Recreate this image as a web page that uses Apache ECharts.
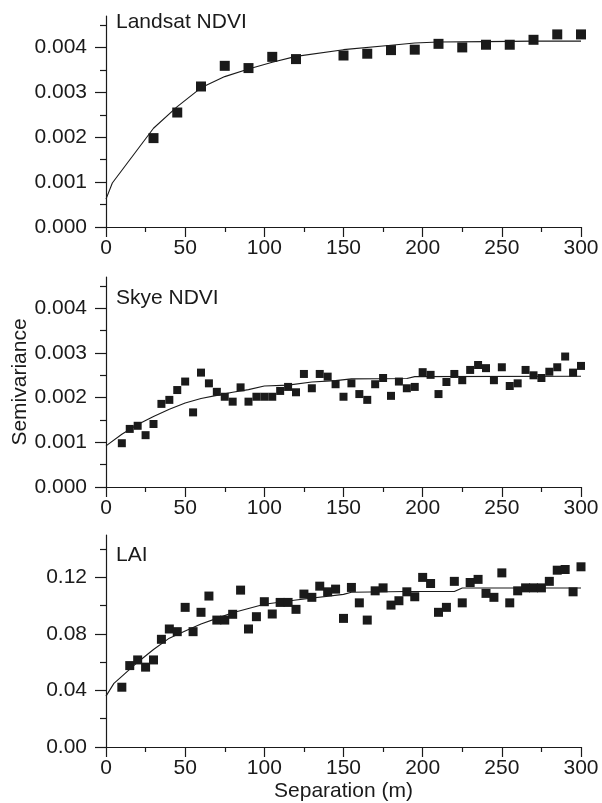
<!DOCTYPE html>
<html>
<head>
<meta charset="utf-8">
<script src="https://cdn.jsdelivr.net/npm/echarts@6/dist/echarts.min.js"></script>
<style>
  html, body { margin: 0; padding: 0; background: #fff; }
  #chart { width: 602px; height: 803px; }
</style>
</head>
<body>
<div id="chart"></div>
<script>
// Landsat NDVI panel
const landsatLags = [30, 45, 60, 75, 90, 105, 120, 150, 165, 180, 195, 210, 225, 240, 255, 270, 285, 300];
const landsatObs = [0.00198, 0.00255, 0.00313, 0.00359, 0.00354, 0.00379, 0.00374, 0.00382, 0.00386,
  0.00394, 0.00395, 0.00408, 0.00400, 0.00406, 0.00406, 0.00417, 0.00429, 0.00429];
const landsatFitLags = [0, 4, 30, 45, 60, 75, 90, 105, 120, 150, 180, 195, 210, 240, 270, 300];
const landsatFit = [0.00062, 0.00098, 0.00220, 0.00268, 0.00310, 0.00335, 0.00352, 0.00367, 0.00380,
  0.00395, 0.00405, 0.00410, 0.00412, 0.00413, 0.00414, 0.00414];

// Skye NDVI and LAI panels share the same lags
const groundLags = [10, 15, 20, 25, 30, 35, 40, 45, 50, 55, 60, 65, 70, 75, 80, 85, 90, 95, 100, 105,
  110, 115, 120, 125, 130, 135, 140, 145, 150, 155, 160, 165, 170, 175, 180, 185, 190, 195, 200, 205,
  210, 215, 220, 225, 230, 235, 240, 245, 250, 255, 260, 265, 270, 275, 280, 285, 290, 295, 300];
const skyeObs = [0.00098, 0.00130, 0.00137, 0.00116, 0.00141, 0.00186, 0.00195, 0.00217, 0.00236, 0.00167,
  0.00256, 0.00232, 0.00213, 0.00202, 0.00191, 0.00223, 0.00191, 0.00202, 0.00202, 0.00202,
  0.00215, 0.00224, 0.00212, 0.00253, 0.00221, 0.00253, 0.00247, 0.00230, 0.00202, 0.00232,
  0.00208, 0.00195, 0.00230, 0.00244, 0.00204, 0.00236, 0.00221, 0.00224, 0.00257, 0.00251,
  0.00208, 0.00235, 0.00253, 0.00239, 0.00262, 0.00273, 0.00266, 0.00239, 0.00268, 0.00226,
  0.00232, 0.00262, 0.00250, 0.00244, 0.00258, 0.00268, 0.00292, 0.00256, 0.00271];
const skyeFitLags = [0, 10, 20, 30, 40, 50, 60, 70, 80, 90, 100, 115, 130, 145, 155, 190, 195, 300];
const skyeFit = [0.00092, 0.00118, 0.00140, 0.00158, 0.00174, 0.00188, 0.00198, 0.00205, 0.00212,
  0.00218, 0.00226, 0.00228, 0.00235, 0.00238, 0.00242, 0.00243, 0.00247, 0.00248];

const laiObs = [0.0423, 0.0576, 0.0616, 0.0565, 0.0616, 0.0762, 0.0835, 0.0816, 0.0988, 0.0816,
  0.0953, 0.1068, 0.0898, 0.0898, 0.0939, 0.1110, 0.0835, 0.0922, 0.1028, 0.0941,
  0.1023, 0.1023, 0.0974, 0.1082, 0.1059, 0.1138, 0.1098, 0.1117, 0.0910, 0.1129,
  0.1020, 0.0898, 0.1105, 0.1126, 0.1004, 0.1035, 0.1098, 0.1063, 0.1200, 0.1157,
  0.0953, 0.0988, 0.1172, 0.1020, 0.1164, 0.1186, 0.1087, 0.1059, 0.1232, 0.1020,
  0.1105, 0.1126, 0.1126, 0.1126, 0.1172, 0.1251, 0.1256, 0.1098, 0.1275];
const laiFitLags = [0, 5, 10, 20, 30, 40, 50, 60, 70, 80, 90, 100, 120, 150, 155, 190, 220, 225, 300];
const laiFit = [0.036, 0.045, 0.050, 0.060, 0.069, 0.077, 0.082, 0.087, 0.091, 0.095, 0.098, 0.101,
  0.104, 0.108, 0.1095, 0.110, 0.110, 0.1125, 0.1125];

// tick values
const ndviMajor = [0, 0.001, 0.002, 0.003, 0.004];
const ndviMinor = [0.0005, 0.0015, 0.0025, 0.0035, 0.0045];
const laiMajor = [0, 0.04, 0.08, 0.12];
const laiMinor = [0.02, 0.06, 0.10, 0.14];

const ink = '#1a1a1a';
const font = "'Liberation Sans', Arial, sans-serif";
const fs = 21;

const panels = [
  { title: 'Landsat NDVI', top: 16, height: 211, max: 0.0047, major: ndviMajor, minor: ndviMinor, digits: 3,
    lags: landsatLags, obs: landsatObs, fitLags: landsatFitLags, fit: landsatFit, size: 10, titleY: 12 },
  { title: 'Skye NDVI', top: 277, height: 210, max: 0.0047, major: ndviMajor, minor: ndviMinor, digits: 3,
    lags: groundLags, obs: skyeObs, fitLags: skyeFitLags, fit: skyeFit, size: 8, titleY: 288 },
  { title: 'LAI', top: 535, height: 212, max: 0.15, major: laiMajor, minor: laiMinor, digits: 2,
    lags: groundLags, obs: laiObs, fitLags: laiFitLags, fit: laiFit, size: 9, titleY: 545 }
];

const grid = [], xAxis = [], yAxis = [], series = [], graphic = [];

panels.forEach((p, i) => {
  grid.push({ left: 106, right: 21, top: p.top, height: p.height });

  xAxis.push({
    gridIndex: i, type: 'value', min: 0, max: 300, interval: 50,
    name: i === 2 ? 'Separation (m)' : '',
    nameLocation: 'middle', nameGap: 34,
    nameTextStyle: { color: ink, fontSize: fs, fontFamily: font },
    axisLine: { lineStyle: { color: ink, width: 1.2 } },
    axisTick: { length: 10, lineStyle: { color: ink, width: 1.2 } },
    minorTick: { show: true, splitNumber: 2, length: 5, lineStyle: { color: ink, width: 1.2 } },
    axisLabel: { color: ink, fontSize: fs, fontFamily: font, margin: 11 },
    splitLine: { show: false }
  });

  const fmt = v => v.toFixed(p.digits);
  yAxis.push({
    gridIndex: i, type: 'value', position: 'left', min: 0, max: p.max,
    axisLine: { show: true, lineStyle: { color: ink, width: 1.2 } },
    axisTick: { show: true, length: 11, customValues: p.major, lineStyle: { color: ink, width: 1.2 } },
    axisLabel: { color: ink, fontSize: fs, fontFamily: font, margin: 19, customValues: p.major, formatter: fmt },
    splitLine: { show: false }
  });
  // second axis only for the minor ticks
  yAxis.push({
    gridIndex: i, type: 'value', position: 'left', offset: 0, min: 0, max: p.max,
    axisLine: { show: false },
    axisTick: { show: true, length: 6, customValues: p.minor, lineStyle: { color: ink, width: 1.2 } },
    axisLabel: { show: false },
    splitLine: { show: false }
  });

  series.push({
    type: 'line', xAxisIndex: i, yAxisIndex: i * 2,
    data: p.fitLags.map((x, k) => [x, p.fit[k]]),
    showSymbol: false, symbol: 'none', silent: true,
    lineStyle: { color: ink, width: 1.1 }, z: 2
  });
  series.push({
    type: 'scatter', xAxisIndex: i, yAxisIndex: i * 2,
    data: p.lags.map((x, k) => [x, p.obs[k]]),
    symbol: 'rect', symbolSize: p.size,
    itemStyle: { color: ink, opacity: 1 }, z: 3
  });

  graphic.push({
    type: 'text', left: 116, top: p.titleY,
    style: { text: p.title, fill: ink, font: fs + 'px ' + font }
  });
});

graphic.push({
  type: 'text', x: 20, y: 382, rotation: Math.PI / 2,
  style: { text: 'Semivariance', fill: ink, font: fs + 'px ' + font, align: 'center', verticalAlign: 'middle' }
});

const chart = echarts.init(document.getElementById('chart'));
chart.setOption({
  animation: false,
  backgroundColor: '#fff',
  grid, xAxis, yAxis, series, graphic
});
</script>
</body>
</html>
